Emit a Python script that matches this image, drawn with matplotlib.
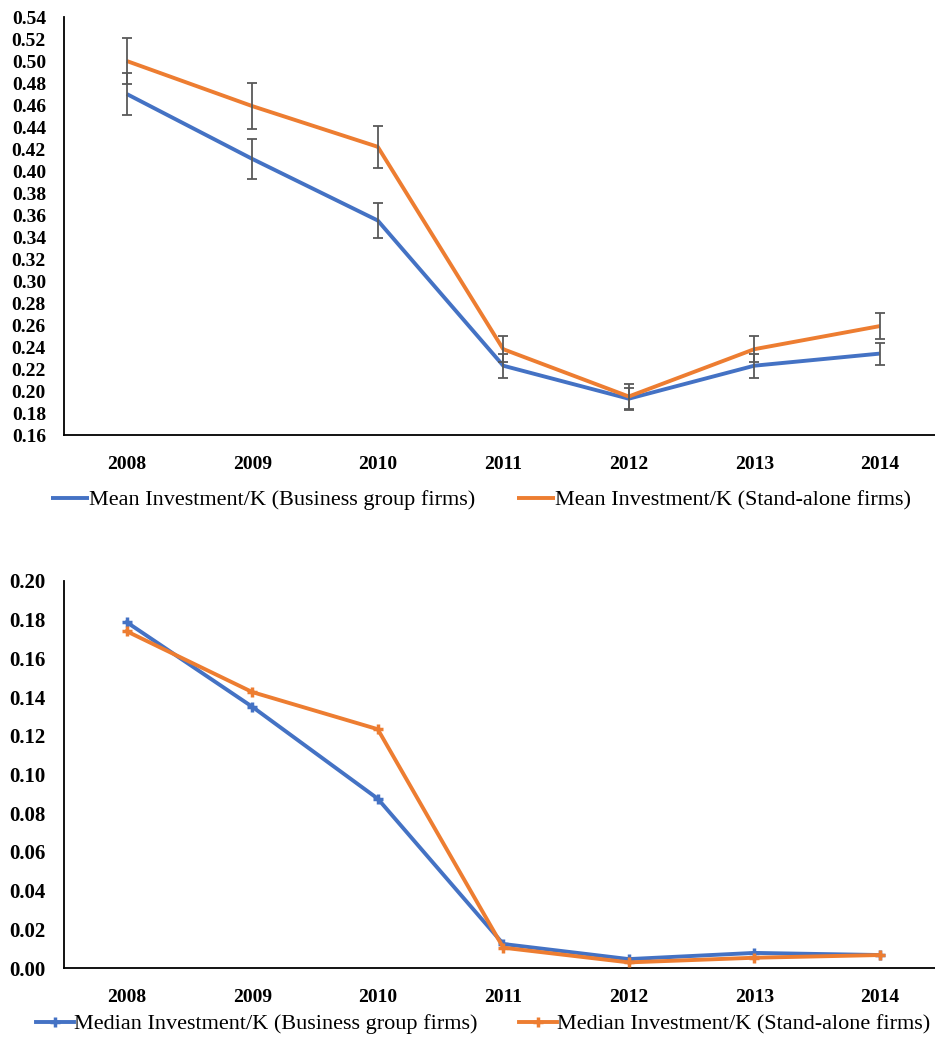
import numpy as np
import matplotlib
matplotlib.use("Agg")
import matplotlib.pyplot as plt
from matplotlib.ticker import FormatStrFormatter

plt.rcParams["font.family"] = ["Liberation Serif", "DejaVu Serif"]

years = ["2008", "2009", "2010", "2011", "2012", "2013", "2014"]

# Mean investment / capital with error bar half-widths
mean_group = [0.470, 0.411, 0.355, 0.223, 0.193, 0.223, 0.234]
mean_alone = [0.500, 0.459, 0.422, 0.238, 0.195, 0.238, 0.259]
err_group = [0.019, 0.018, 0.016, 0.011, 0.010, 0.011, 0.010]
err_alone = [0.021, 0.021, 0.019, 0.012, 0.011, 0.012, 0.012]

# Median investment / capital
median_group = [0.1787, 0.1350, 0.0875, 0.0124, 0.0046, 0.0078, 0.0067]
median_alone = [0.1740, 0.1426, 0.1234, 0.0105, 0.0029, 0.0053, 0.0067]

BLUE = "#4472C4"
ORANGE = "#ED7D31"
GREY = "#595959"

W, H = 935, 1061
fig = plt.figure(figsize=(W / 100, H / 100), dpi=100)

x = np.arange(len(years))
xlim = (-0.5, -0.5 + (W - 64) / 125.5)


def style_axes(ax, ysize=14):
    ax.spines["top"].set_visible(False)
    ax.spines["right"].set_visible(False)
    ax.spines["left"].set_linewidth(1.3)
    ax.spines["bottom"].set_linewidth(1.3)
    ax.set_xlim(*xlim)
    ax.set_xticks(x)
    ax.set_xticklabels(years)
    ax.tick_params(axis="both", length=0, labelsize=14)
    ax.tick_params(axis="y", pad=13, labelsize=ysize)
    ax.tick_params(axis="x", pad=15)
    for lbl in ax.get_xticklabels() + ax.get_yticklabels():
        lbl.set_fontweight("bold")


# top panel: means with error bars
ax1 = fig.add_axes([64 / W, 1 - 435 / H, (W - 64) / W, 418 / H])
l1, = ax1.plot(x, mean_group, color=BLUE, lw=2.8, solid_capstyle="butt", zorder=2)
l2, = ax1.plot(x, mean_alone, color=ORANGE, lw=2.8, solid_capstyle="butt", zorder=3)
ax1.errorbar(x, mean_group, yerr=err_group, fmt="none", ecolor=GREY,
             elinewidth=1.3, capsize=3.5, capthick=1.3, zorder=4)
ax1.errorbar(x, mean_alone, yerr=err_alone, fmt="none", ecolor=GREY,
             elinewidth=1.3, capsize=3.5, capthick=1.3, zorder=4)
ax1.set_ylim(0.16, 0.54)
ax1.set_yticks(np.arange(0.16, 0.5401, 0.02))
ax1.yaxis.set_major_formatter(FormatStrFormatter("%.2f"))
style_axes(ax1)

fig.legend([l1, l2],
           ["Mean Investment/K (Business group firms)",
            "Mean Investment/K (Stand-alone firms)"],
           loc="center", bbox_to_anchor=(481 / W, 1 - 500 / H), ncol=2,
           frameon=False, fontsize=16, handlelength=1.7, handletextpad=0.0,
           columnspacing=1.9)

# bottom panel: medians
ax2 = fig.add_axes([64 / W, 1 - 968 / H, (W - 64) / W, 387 / H])
m1, = ax2.plot(x, median_group, color=BLUE, lw=2.8, marker="+",
               markersize=7.5, markeredgewidth=2.5, zorder=2)
m2, = ax2.plot(x, median_alone, color=ORANGE, lw=2.8, marker="+",
               markersize=7.5, markeredgewidth=2.5, zorder=3)
ax2.set_ylim(0, 0.20)
ax2.set_yticks(np.arange(0, 0.2001, 0.02))
ax2.yaxis.set_major_formatter(FormatStrFormatter("%.2f"))
style_axes(ax2, ysize=15)

fig.legend([m1, m2],
           ["Median Investment/K (Business group firms)",
            "Median Investment/K (Stand-alone firms)"],
           loc="center", bbox_to_anchor=(483 / W, 1 - 1024 / H), ncol=2,
           frameon=False, fontsize=16, handlelength=1.7, handletextpad=0.0,
           columnspacing=1.9)

fig.savefig("out.png", dpi=100, facecolor="white")
